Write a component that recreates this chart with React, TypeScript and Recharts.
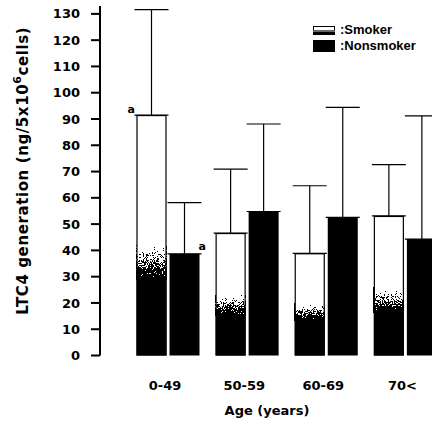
import React from 'react';
import { BarChart, Bar, XAxis, YAxis, ErrorBar, Legend, LabelList } from 'recharts';

const ageGroups = ['0-49', '50-59', '60-69', '70<'];
const smokerMean = [91.5, 46.6, 38.9, 53.1];
const smokerSD = [40.1, 24.3, 25.7, 19.5];
const nonsmokerMean = [38.7, 54.8, 52.6, 44.3];
const nonsmokerSD = [19.5, 33.3, 41.8, 46.9];
// shading inside the smoker bars (solid black part and top of stippled part)
const smokerSolid = [29, 15.4, 13.5, 16.7];
const smokerStipple = [42, 23, 19.9, 26.2];
const smokerNote = ['a', '', '', ''];
const nonsmokerNote = ['a', '', '', ''];
const yTicks = [0, 10, 20, 30, 40, 50, 60, 70, 80, 90, 100, 110, 120, 130];

const data = ageGroups.map((age, i) => ({
  age,
  smoker: smokerMean[i],
  smokerErr: [0, smokerSD[i]],
  nonsmoker: nonsmokerMean[i],
  nonsmokerErr: [0, nonsmokerSD[i]],
  solid: smokerSolid[i],
  stipple: smokerStipple[i],
  sNote: smokerNote[i],
  nNote: nonsmokerNote[i],
}));

const FONT = 'DejaVu Sans, Verdana, sans-serif';

const SmokerShape = (props: any) => {
  const { x, y, width, height, payload } = props;
  if (!height) return null;
  const v = payload.smoker;
  const bottom = y + height;
  const solidTop = Math.round(bottom - (height * payload.solid) / v);
  const stipTop = Math.round(bottom - (height * payload.stipple) / v);
  return (
    <g>
      <rect x={x} y={y} width={width} height={height} fill="#fff" />
      <rect
        x={x}
        y={stipTop}
        width={width}
        height={solidTop - stipTop + 1}
        fill="url(#fadeGrad)"
        filter="url(#stipple)"
      />
      <rect x={x} y={solidTop} width={width} height={bottom - solidTop} fill="#000" />
      <rect
        x={x + 0.5}
        y={y + 0.5}
        width={width - 1}
        height={height - 1}
        fill="none"
        stroke="#000"
        strokeWidth={1.2}
      />
    </g>
  );
};

const NonsmokerShape = (props: any) => {
  const { x, y, width, height } = props;
  if (!height) return null;
  return <rect x={x} y={y} width={width} height={height} fill="#000" />;
};

const SmokerNote = (props: any) => {
  const { x, y, value } = props;
  if (!value) return null;
  return (
    <text x={x - 1.5} y={y - 2} textAnchor="end" fontFamily={FONT} fontWeight="bold" fontSize={11} fill="#000">
      {value}
    </text>
  );
};

const NonsmokerNote = (props: any) => {
  const { x, y, width, value } = props;
  if (!value) return null;
  return (
    <text x={x + width - 1} y={y - 3.5} textAnchor="start" fontFamily={FONT} fontWeight="bold" fontSize={11} fill="#000">
      {value}
    </text>
  );
};

const YLabel = (props: any) => {
  const vb = props.viewBox || { x: 0, y: 0, width: 100, height: 350 };
  const cx = vb.x + 23;
  const cy = vb.y + vb.height / 2 - 10;
  return (
    <text
      transform={`rotate(-90, ${cx}, ${cy})`}
      x={cx}
      y={cy}
      textAnchor="middle"
      dominantBaseline="central"
      fontFamily={FONT}
      fontWeight="bold"
      fontSize={15}
      letterSpacing={0.6}
      fill="#000"
    >
      LTC4 generation (ng/5x10
      <tspan dy={-6} fontSize={11}>6</tspan>
      <tspan dy={6}>cells)</tspan>
    </text>
  );
};

const XLabel = (props: any) => {
  const vb = props.viewBox || { x: 100, y: 355, width: 345, height: 66 };
  return (
    <text
      x={vb.x + 167}
      y={vb.y + 59.5}
      textAnchor="middle"
      fontFamily={FONT}
      fontWeight="bold"
      fontSize={13}
      fill="#000"
    >
      Age (years)
    </text>
  );
};

const legendOrder = ['smoker', 'nonsmoker'];

const LegendContent = (props: any) => {
  const payload = [...(props.payload || [])].sort(
    (a: any, b: any) => legendOrder.indexOf(a.dataKey) - legendOrder.indexOf(b.dataKey)
  );
  return (
    <div style={{ fontFamily: 'Liberation Sans, Arial, sans-serif', fontWeight: 700, fontSize: 13, color: '#000' }}>
      {payload.map((p: any) => (
        <div key={p.value} style={{ display: 'flex', alignItems: 'center', height: 16 }}>
          {p.dataKey === 'smoker' ? (
            <svg width={22} height={9} style={{ display: 'block' }}>
              <rect x={0.5} y={0.5} width={21} height={8} fill="#fff" stroke="#000" />
              <rect x={0} y={4} width={22} height={2} fill="#666" />
              <rect x={0} y={6} width={22} height={3} fill="#000" />
            </svg>
          ) : (
            <svg width={22} height={12} style={{ display: 'block' }}>
              <rect x={0} y={0} width={22} height={12} fill="#000" />
            </svg>
          )}
          <span style={{ marginLeft: 5, lineHeight: '16px' }}>:{p.value}</span>
        </div>
      ))}
    </div>
  );
};

export default function App() {
  return (
    <div
      style={{
        position: 'fixed',
        left: 0,
        top: 0,
        width: 432,
        height: 422,
        overflow: 'hidden',
        background: '#fff',
      }}
    >
      <BarChart
        width={460}
        height={422}
        data={data}
        margin={{ top: 6, right: 15, left: 0, bottom: 0 }}
        barSize={30}
        barGap={3}
      >
        <defs>
          <linearGradient id="fadeGrad" x1="0" y1="1" x2="0" y2="0">
            <stop offset="0" stopColor="#000" />
            <stop offset="1" stopColor="#fff" />
          </linearGradient>
          <filter id="stipple" x="0" y="0" width="1" height="1" colorInterpolationFilters="sRGB">
            <feTurbulence type="fractalNoise" baseFrequency="0.9" numOctaves={1} seed={3} result="noise" />
            <feColorMatrix
              in="noise"
              type="matrix"
              values="1 0 0 0 0  1 0 0 0 0  1 0 0 0 0  0 0 0 0 1"
              result="gnoise"
            />
            <feComposite in="SourceGraphic" in2="gnoise" operator="arithmetic" k1={0} k2={1} k3={2} k4={-1} result="sum" />
            <feComponentTransfer in="sum">
              <feFuncR type="discrete" tableValues="0 1" />
              <feFuncG type="discrete" tableValues="0 1" />
              <feFuncB type="discrete" tableValues="0 1" />
              <feFuncA type="linear" slope={0} intercept={1} />
            </feComponentTransfer>
          </filter>
        </defs>
        <XAxis
          dataKey="age"
          axisLine={false}
          tickLine={false}
          tickSize={0}
          tickMargin={25}
          height={66.5}
          padding={{ left: 28.5, right: 0 }}
          tick={{ fontFamily: FONT, fontWeight: 'bold', fontSize: 13, fill: '#000', dx: -3 }}
          label={<XLabel />}
        />
        <YAxis
          width={100}
          domain={[0, 133]}
          ticks={yTicks}
          interval={0}
          tickSize={9}
          tickMargin={11}
          axisLine={{ stroke: '#000', strokeWidth: 2 }}
          tickLine={{ stroke: '#000', strokeWidth: 2 }}
          tick={{ fontFamily: FONT, fontWeight: 'bold', fontSize: 13, fill: '#000' }}
          label={<YLabel />}
        />
        <Legend
          layout="vertical"
          align="center"
          verticalAlign="middle"
          content={<LegendContent />}
          wrapperStyle={{ top: 22, left: 313, right: 'auto', bottom: 'auto', width: 'auto', height: 'auto' }}
        />
        <Bar dataKey="smoker" name="Smoker" fill="#fff" stroke="#000" shape={<SmokerShape />} isAnimationActive={false}>
          <ErrorBar dataKey="smokerErr" width={17} stroke="#000" strokeWidth={1.2} direction="y" />
          <LabelList dataKey="sNote" content={<SmokerNote />} />
        </Bar>
        <Bar dataKey="nonsmoker" name="Nonsmoker" fill="#000" shape={<NonsmokerShape />} isAnimationActive={false}>
          <ErrorBar dataKey="nonsmokerErr" width={17} stroke="#000" strokeWidth={1.2} direction="y" />
          <LabelList dataKey="nNote" content={<NonsmokerNote />} />
        </Bar>
      </BarChart>
    </div>
  );
}
